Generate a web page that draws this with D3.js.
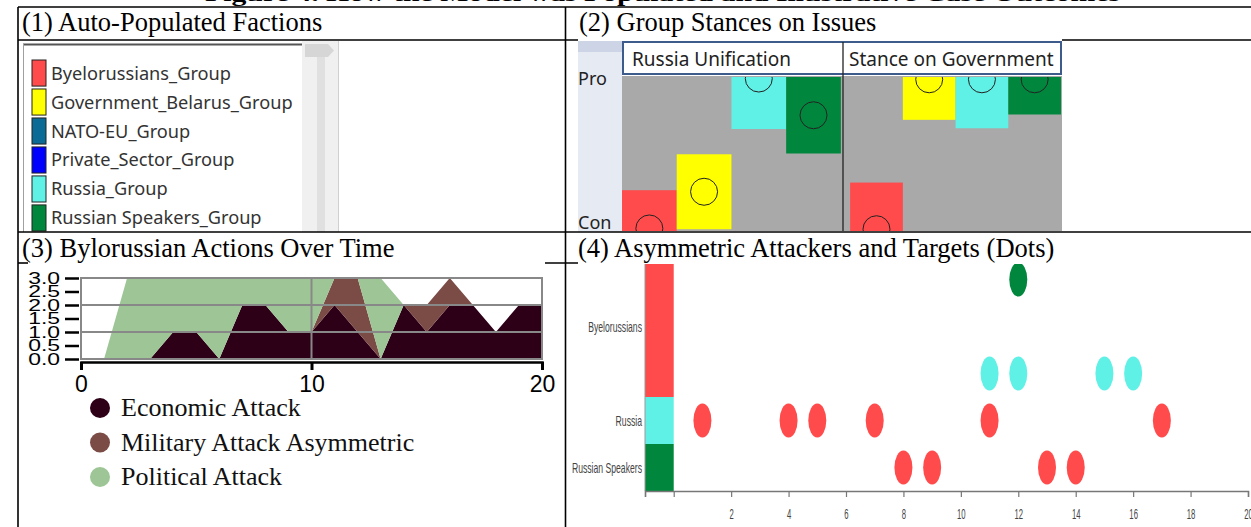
<!DOCTYPE html>
<html><head><meta charset="utf-8">
<script src="https://cdn.jsdelivr.net/npm/d3@7"></script>
<style>body{margin:0;background:#fff;} svg{display:block}</style>
</head><body><svg id="c" width="1251" height="527"></svg>
<script>
// ---------------- data ----------------
const figureTitle = "Figure 4. How the Model was Populated and Illustrative Case Outcomes";
const panelTitles = ["(1) Auto-Populated Factions","(2) Group Stances on Issues","(3) Bylorussian Actions Over Time","(4) Asymmetric Attackers and Targets (Dots)"];

const factions = ["Byelorussians_Group","Government_Belarus_Group","NATO-EU_Group","Private_Sector_Group","Russia_Group","Russian Speakers_Group"];
const factionColors = ["#ff4b4b","#ffff00","#0b6a96","#0000ff","#5ff0e6","#00873d"];

const issues = ["Russia Unification","Stance on Government"];
const stanceGroups = ["Byelorussians","Government_Belarus","Russia","Russian Speakers"];
const stanceColors = ["#ff4b4b","#ffff00","#5ff0e6","#00873d"];
const stanceRU = [-0.98,-0.5,0.98,0.5];
const spreadRU = [0.5,0.49,0.66,0.5];
const stanceSG = [-0.99,0.97,0.97,0.97];
const spreadSG = [0.61,0.53,0.64,0.46];
const stanceLabels = ["Pro","Con"];

const times = [0,1,2,3,4,5,6,7,8,9,10,11,12,13,14,15,16,17,18,19,20];
const economic = [0,0,0,0,1,1,0,2,2,1,1,2,1,0,2,1,2,2,1,2,2];
const military = [0,0,0,0,0,0,0,0,0,0,0,1,2,0,0,1,1,0,0,0,0];
const political = [0,0,3,3,2,2,3,1,1,2,2,0,0,3,0,0,0,0,0,0,0];
const actionNames = ["Economic Attack","Military Attack Asymmetric","Political Attack"];
const actionColors = ["#2e0018","#7b4b46","#9dc596"];
const actionYTicks = [0,0.5,1,1.5,2,2.5,3];
const actionXTicks = [0,10,20];

const targetRows = ["Byelorussians","Russia","Russian Speakers"];
const targetRowLo = [2,1,0];
const targetRowHi = [5,2,1];
const targetRowColors = ["#ff4b4b","#5ff0e6","#00873d"];
const attackerNames = ["Byelorussians","Russia","Russian Speakers"];
const attackerColors = ["#ff4b4b","#5ff0e6","#00873d"];
const attackByeOnRussia = [1,4,5,7,11,17];
const attackByeOnSpeakers = [8,9,13,14];
const attackRussiaOnBye = [11,12,15,16];
const attackSpeakersOnBye = [12];
const attackXTicks = [-1,0,2,4,6,8,10,12,14,16,18,20];

// ---------------- drawing ----------------
const svg = d3.select("#c");
const serif = "'Liberation Serif','Times New Roman',serif";
const sans = "'Liberation Sans',Arial,sans-serif";
const ui = "'Noto Sans','Open Sans',sans-serif";

// cut-off figure title
svg.append("text").attr("x",205).attr("y",0.5).attr("textLength",915).attr("lengthAdjust","spacingAndGlyphs")
  .attr("font-family",serif).attr("font-weight","bold").attr("font-size",22).text(figureTitle);

// table lines
const lines = [
  [18,7,1251,7],[18,7,18,527],[565.5,7,565.5,527],
  [18,40,578,40],[1062,40,1251,40],
  [18,232,1251,232],
  [18,263,28,263],[545,263,578,263]
];

// panel titles
const titlePos = [[22,31],[579,31],[22,257],[578,257]];
svg.selectAll("text.ptitle").data(panelTitles).join("text").attr("class","ptitle")
  .attr("x",(d,i)=>titlePos[i][0]).attr("y",(d,i)=>titlePos[i][1])
  .attr("font-family",serif).attr("font-size",26.5).attr("fill","#000").text(d=>d);

// ---------- Panel 1: list box ----------
const p1 = svg.append("g");
p1.append("rect").attr("x",22).attr("y",41).attr("width",318).attr("height",191).attr("fill","#fff");
p1.append("rect").attr("x",302).attr("y",41).attr("width",37).attr("height",191).attr("fill","#f0f0f0");
p1.append("path").attr("d","M305,44H328L334,50.5L328,57H305Z").attr("fill","#d6d6d6");
p1.append("rect").attr("x",317).attr("y",57).attr("width",8).attr("height",175).attr("fill","#e0e0e0");
p1.append("line").attr("x1",338.5).attr("x2",338.5).attr("y1",41).attr("y2",232).attr("stroke","#d0d0d0");
p1.append("line").attr("x1",23).attr("x2",302).attr("y1",44.5).attr("y2",44.5).attr("stroke","#555").attr("stroke-width",2);
p1.append("line").attr("x1",23.5).attr("x2",23.5).attr("y1",44).attr("y2",232).attr("stroke","#a0a0a0");
const yList = d3.scaleBand().domain(factions).range([60,231]).paddingInner(0.1);
const li = p1.selectAll("g.item").data(factions).join("g").attr("class","item");
li.append("rect").attr("x",32).attr("y",d=>yList(d)).attr("width",14).attr("height",yList.bandwidth())
  .attr("fill",(d,i)=>factionColors[i]).attr("stroke","#222").attr("stroke-width",1);
li.append("text").attr("x",51).attr("y",d=>yList(d)+yList.bandwidth()/2+6.5)
  .attr("font-family",ui).attr("font-size",18.2).attr("fill","#333").text(d=>d);

// ---------- Panel 2: stances ----------
const p2 = svg.append("g");
const yS = d3.scaleLinear().domain([-1,1]).range([230,77]);
p2.append("rect").attr("x",578).attr("y",41).attr("width",44).attr("height",191).attr("fill","#e6eaf3");
p2.append("rect").attr("x",578).attr("y",41).attr("width",44).attr("height",11).attr("fill","#cdd4e6");
p2.append("rect").attr("x",622).attr("y",76).attr("width",440).attr("height",155).attr("fill","#a9a9a9");
const issueX = d3.scaleBand().domain(issues).range([622,1061]).paddingInner(0.05);
p2.append("defs").append("clipPath").attr("id","clip2").append("rect")
  .attr("x",622).attr("y",77).attr("width",440).attr("height",154);
const ig = p2.selectAll("g.issue").data(issues).join("g").attr("class","issue").attr("clip-path","url(#clip2)");
ig.each(function(issue,k){
  const g = d3.select(this);
  const xg = d3.scaleBand().domain(stanceGroups).range(k===0?[issueX(issue),issueX(issue)+issueX.bandwidth()+5]:[issueX(issue)+3,issueX(issue)+issueX.bandwidth()]);
  const vals = k===0?stanceRU:stanceSG, spr = k===0?spreadRU:spreadSG;
  g.selectAll("rect").data(stanceGroups).join("rect")
    .attr("x",d=>xg(d)).attr("width",xg.bandwidth())
    .attr("y",(d,i)=>yS(vals[i]+spr[i])).attr("height",(d,i)=>yS(vals[i]-spr[i])-yS(vals[i]+spr[i]))
    .attr("fill",(d,i)=>stanceColors[i]);
  g.selectAll("circle").data(stanceGroups).join("circle")
    .attr("cx",d=>xg(d)+xg.bandwidth()/2).attr("cy",(d,i)=>yS(vals[i])).attr("r",13.5)
    .attr("fill","none").attr("stroke","#222").attr("stroke-width",1);
});
p2.append("rect").attr("x",623).attr("y",42).attr("width",438).attr("height",32).attr("fill","#fff")
  .attr("stroke","#3d5c8c").attr("stroke-width",2);
p2.append("line").attr("x1",843).attr("x2",843).attr("y1",42).attr("y2",231).attr("stroke","#222").attr("stroke-width",1.3);
p2.selectAll("text.issue").data(issues).join("text").attr("class","issue")
  .attr("x",(d,i)=>i===0?632:849).attr("y",66).attr("font-family",ui).attr("font-size",19).attr("fill","#222").text(d=>d);
p2.selectAll("text.sl").data(stanceLabels).join("text").attr("class","sl")
  .attr("x",578).attr("y",(d,i)=>i===0?85:229).attr("font-family",ui).attr("font-size",18).attr("fill","#222").text(d=>d);

// ---------- Panel 3: stacked area ----------
const p3 = svg.append("g");
const x3 = d3.scaleLinear().domain([0,20]).range([81,542]);
const y3 = d3.scaleLinear().domain([0,3]).range([359,278]);
const tbl = times.map((t,i)=>({t, e:economic[i], m:military[i], p:political[i]}));
const stack = d3.stack().keys(["e","m","p"])(tbl);
const area = d3.area().x(d=>x3(d.data.t)).y0(d=>y3(d[0])).y1(d=>y3(d[1]));
p3.selectAll("path.ar").data(stack).join("path").attr("class","ar")
  .attr("d",area).attr("fill",(d,i)=>actionColors[i]);
p3.selectAll("line.gh").data([1,2]).join("line").attr("class","gh")
  .attr("x1",x3(0)).attr("x2",x3(20)).attr("y1",d=>y3(d)).attr("y2",d=>y3(d)).attr("stroke","#888").attr("stroke-width",2);
p3.append("line").attr("x1",x3(10)).attr("x2",x3(10)).attr("y1",y3(0)).attr("y2",y3(3)).attr("stroke","#888").attr("stroke-width",2);
p3.append("rect").attr("x",x3(0)).attr("y",y3(3)).attr("width",x3(20)-x3(0)).attr("height",y3(0)-y3(3))
  .attr("fill","none").attr("stroke","#888").attr("stroke-width",2);
const ya = p3.append("g").attr("transform",`translate(${x3(0)-2},0)`)
  .call(d3.axisLeft(y3).tickValues(actionYTicks).tickFormat(d3.format(".1f")).tickSize(14));
ya.select(".domain").remove();
ya.selectAll(".tick line").attr("stroke","#000").attr("stroke-width",2.5);
ya.selectAll(".tick text").attr("x",-14).attr("font-family",sans).attr("font-size",17).attr("fill","#000")
  .attr("transform","scale(1.35,0.95)");
const xa = p3.append("g").attr("transform",`translate(0,${y3(0)+3})`)
  .call(d3.axisBottom(x3).tickValues(actionXTicks).tickSize(8).tickPadding(6));
xa.select(".domain").attr("stroke","#000").attr("stroke-width",2.5);
xa.selectAll(".tick line").attr("stroke","#000").attr("stroke-width",3);
xa.selectAll(".tick text").attr("font-family",sans).attr("font-size",23).attr("fill","#000");
const lg = p3.selectAll("g.lg").data(actionNames).join("g").attr("class","lg")
  .attr("transform",(d,i)=>`translate(100,${408+i*34.5})`);
lg.append("circle").attr("r",10).attr("fill",(d,i)=>actionColors[i]);
lg.append("text").attr("x",21).attr("y",8).attr("font-family",serif).attr("font-size",26).attr("fill","#111").text(d=>d);

// ---------- Panel 4: dots ----------
const p4 = svg.append("g");
const x4 = d3.scaleLinear().domain([-1,20]).range([645,1248]);
const y4 = d3.scaleLinear().domain([0,5]).range([491,256]);
p4.append("defs").append("clipPath").attr("id","clip4").append("rect")
  .attr("x",570).attr("y",264).attr("width",681).attr("height",263);
const pg = p4.append("g").attr("clip-path","url(#clip4)");
pg.selectAll("rect.band").data(targetRows).join("rect").attr("class","band")
  .attr("x",x4(-1)).attr("width",x4(0)-x4(-1))
  .attr("y",(d,i)=>y4(targetRowHi[i])).attr("height",(d,i)=>y4(targetRowLo[i])-y4(targetRowHi[i]))
  .attr("fill",(d,i)=>targetRowColors[i]);
const dots = [];
attackByeOnRussia.forEach(t=>dots.push({t, lane:1.5, c:attackerColors[0]}));
attackByeOnSpeakers.forEach(t=>dots.push({t, lane:0.5, c:attackerColors[0]}));
attackRussiaOnBye.forEach(t=>dots.push({t, lane:2.5, c:attackerColors[1]}));
attackSpeakersOnBye.forEach(t=>dots.push({t, lane:4.5, c:attackerColors[2]}));
pg.selectAll("ellipse").data(dots).join("ellipse")
  .attr("cx",d=>x4(d.t)).attr("cy",d=>y4(d.lane)).attr("rx",9).attr("ry",17).attr("fill",d=>d.c);
pg.append("line").attr("x1",x4(-1)).attr("x2",x4(-1)).attr("y1",263).attr("y2",y4(0)).attr("stroke","#999");
p4.selectAll("text.rl").data(targetRows).join("text").attr("class","rl")
  .attr("transform",(d,i)=>`translate(642,${y4((targetRowLo[i]+targetRowHi[i])/2)+5}) scale(0.72,1.25)`)
  .attr("text-anchor","end").attr("font-family",sans).attr("font-size",12).attr("fill","#444").text(d=>d);
const xa4 = p4.append("g").attr("transform",`translate(0,${y4(0)})`)
  .call(d3.axisBottom(x4).tickValues(attackXTicks).tickSize(6).tickFormat(d=>d>0?d:""));
xa4.select(".domain").attr("stroke","#777").attr("stroke-width",1.5);
xa4.selectAll(".tick line").attr("stroke","#777").attr("stroke-width",1.2);
xa4.selectAll(".tick text").attr("y",0).attr("dy",0).attr("font-family",sans).attr("font-size",11).attr("fill","#444")
  .attr("transform","translate(0,28) scale(0.7,1.3)");

// table lines drawn last (on top where the reference shows them)
svg.selectAll("line.tbl").data(lines).join("line").attr("class","tbl")
  .attr("x1",d=>d[0]).attr("y1",d=>d[1]).attr("x2",d=>d[2]).attr("y2",d=>d[3])
  .attr("stroke","#000").attr("stroke-width",1.6);
</script></body></html>
